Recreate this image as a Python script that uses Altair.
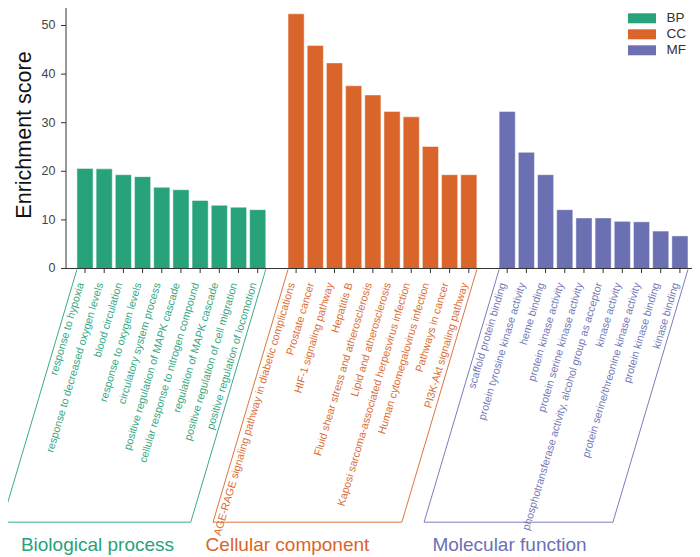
import altair as alt
import pandas as pd

# ---------------- data ----------------
groups = ["BP", "CC", "MF"]
group_titles = ["Biological process", "Cellular component", "Molecular function"]
colors = ["#27a27b", "#d9652a", "#6b70b2"]

bp_terms = ["response to hypoxia", "response to decreased oxygen levels", "blood circulation",
            "response to oxygen levels", "circulatory system process",
            "positive regulation of MAPK cascade", "cellular response to nitrogen compound",
            "regulation of MAPK cascade", "positive regulation of cell migration",
            "positive regulation of locomotion"]
bp_scores = [20.6, 20.5, 19.3, 18.9, 16.7, 16.2, 14.0, 13.0, 12.6, 12.1]

cc_terms = ["AGE-RAGE signaling pathway in diabetic complications", "Prostate cancer",
            "HIF-1 signaling pathway", "Hepatitis B", "Fluid shear stress and atherosclerosis",
            "Lipid and atherosclerosis", "Kaposi sarcoma-associated herpesvirus infection",
            "Human cytomegalovirus infection", "Pathways in cancer", "PI3K-Akt signaling pathway"]
cc_scores = [52.4, 45.9, 42.3, 37.6, 35.7, 32.3, 31.2, 25.1, 19.3, 19.3]

mf_terms = ["scaffold protein binding", "protein tyrosine kinase activity", "heme binding",
            "protein kinase activity", "protein serine kinase activity",
            "phosphotransferase activity, alcohol group as acceptor", "kinase activity",
            "protein serine/threonine kinase activity", "protein kinase binding", "kinase binding"]
mf_scores = [32.3, 23.9, 19.3, 12.1, 10.4, 10.4, 9.7, 9.6, 7.7, 6.7]

y_ticks = [0, 10, 20, 30, 40, 50]
y_title = "Enrichment score"

# ---------------- layout constants ----------------
GAP = 1                      # empty slots between groups
HALF = 0.42                  # half bar width, in slots
X_DOMAIN = [-0.99, 31.63]
Y_DOMAIN = [-59.16, 53.6]
Y_TOP = 53.6
TICK_LEN = 0.93              # x tick length, in score units
SKEW = 3.91                  # bracket horizontal shift, in slots
BR_TOP, BR_BOT = -0.2, -52.2
LABEL_Y, LABEL_DX = -3.0, -0.2
TITLE_Y = -58.1
TITLE_X = [0.65, 10.55, 22.12]
W, H = 626, 548
FONT = "Liberation Sans"
AX = "#333333"

rows = []
for gi, (terms, scores) in enumerate([(bp_terms, bp_scores), (cc_terms, cc_scores), (mf_terms, mf_scores)]):
    for i, (t, s) in enumerate(zip(terms, scores)):
        rows.append(dict(group=groups[gi], term=t, score=s, slot=gi * (len(terms) + GAP) + i))
df = pd.DataFrame(rows)

br_rows = []
for g in groups:
    sub = df[df["group"] == g]
    sL, sR = sub["slot"].min() - HALF, sub["slot"].max() + HALF
    pts = [(sL, BR_TOP), (sL - SKEW, BR_BOT), (sR - SKEW, BR_BOT), (sR, BR_TOP)]
    for k, (x, y) in enumerate(pts):
        br_rows.append(dict(group=g, k=k, bx=float(x), by=float(y)))
br = pd.DataFrame(br_rows)

titles = pd.DataFrame(dict(group=groups, title=group_titles, tx=TITLE_X, ty=[TITLE_Y] * 3))
ytk = pd.DataFrame({"v": y_ticks})

xscale = alt.Scale(domain=X_DOMAIN, nice=False, zero=False)
yscale = alt.Scale(domain=Y_DOMAIN, nice=False, zero=False)
cscale = alt.Scale(domain=groups, range=colors)

legend = alt.Legend(
    title=None, orient="none", legendX=566.5, legendY=0.8, padding=0,
    symbolType="M-1.474,-0.526H1.474V0.526H-1.474Z", symbolSize=361,
    symbolStrokeWidth=0, symbolOpacity=1, labelOffset=15, rowPadding=0,
    labelFontSize=13.5, labelColor="#333333", labelFont=FONT,
)

bars = alt.Chart(df).transform_calculate(
    x1=f"datum.slot - {HALF}", x2=f"datum.slot + {HALF}", zero="0"
).mark_bar(stroke="white", strokeOpacity=0.45, strokeWidth=1).encode(
    x=alt.X("x1:Q", scale=xscale, axis=None),
    x2="x2:Q",
    y=alt.Y("score:Q", scale=yscale, axis=None),
    y2="zero:Q",
    color=alt.Color("group:N", scale=cscale, legend=legend),
)

# ---- y axis (spine, ticks, labels, title) ----
spine = alt.Chart(pd.DataFrame({"y0": [0.0], "y1": [Y_TOP]})).mark_rule(
    color=AX, strokeWidth=1
).encode(x=alt.value(0), y=alt.Y("y0:Q", scale=yscale, axis=None), y2="y1:Q")

yticks = alt.Chart(ytk).mark_rule(color=AX, strokeWidth=1).encode(
    x=alt.value(-5), x2=alt.value(0), y=alt.Y("v:Q", scale=yscale, axis=None)
)
ylabels = alt.Chart(ytk).mark_text(align="right", baseline="middle", fontSize=12.5,
                                   color="#444444", font=FONT).encode(
    x=alt.value(-10.5), y=alt.Y("v:Q", scale=yscale, axis=None), text="v:Q"
)
ytitle = alt.Chart(pd.DataFrame({"t": [y_title]})).mark_text(
    angle=270, align="center", baseline="middle", fontSize=21.5, color="#111111", font=FONT
).encode(x=alt.value(-41), y=alt.value(127), text="t:N")

# ---- x axis (baseline and ticks) ----
baseline = alt.Chart(pd.DataFrame({"y0": [0.0]})).mark_rule(color=AX, strokeWidth=1).encode(
    x=alt.value(0), x2=alt.value(W), y=alt.Y("y0:Q", scale=yscale, axis=None)
)
xticks = alt.Chart(df).transform_calculate(t0="0", t1=f"-{TICK_LEN}").mark_rule(
    color=AX, strokeWidth=1
).encode(
    x=alt.X("slot:Q", scale=xscale, axis=None),
    y=alt.Y("t0:Q", scale=yscale, axis=None),
    y2="t1:Q",
)

labels = alt.Chart(df).transform_calculate(
    lx=f"datum.slot + {LABEL_DX}", ly=f"{LABEL_Y}"
).mark_text(angle=286.5, align="right", baseline="middle", fontSize=10.7, font=FONT, opacity=0.95).encode(
    x=alt.X("lx:Q", scale=xscale, axis=None),
    y=alt.Y("ly:Q", scale=yscale, axis=None),
    text="term:N",
    color=alt.Color("group:N", scale=cscale, legend=None),
)

brackets = alt.Chart(br).mark_line(strokeWidth=1, opacity=0.9).encode(
    x=alt.X("bx:Q", scale=xscale, axis=None),
    y=alt.Y("by:Q", scale=yscale, axis=None),
    detail="group:N",
    order="k:Q",
    color=alt.Color("group:N", scale=cscale, legend=None),
)

group_text = alt.Chart(titles).mark_text(align="center", baseline="alphabetic", fontSize=19, font=FONT).encode(
    x=alt.X("tx:Q", scale=xscale, axis=None),
    y=alt.Y("ty:Q", scale=yscale, axis=None),
    text="title:N",
    color=alt.Color("group:N", scale=cscale, legend=None),
)

chart = alt.layer(bars, spine, yticks, ylabels, ytitle, baseline, xticks,
                  brackets, labels, group_text).properties(
    width=W, height=H,
    autosize=alt.AutoSizeParams(type="none"),
    padding={"left": 58, "top": 0, "right": 0, "bottom": 0},
).configure(font=FONT).configure_view(stroke=None)

chart.save("out.html", embed_options={"renderer": "svg", "actions": False})
